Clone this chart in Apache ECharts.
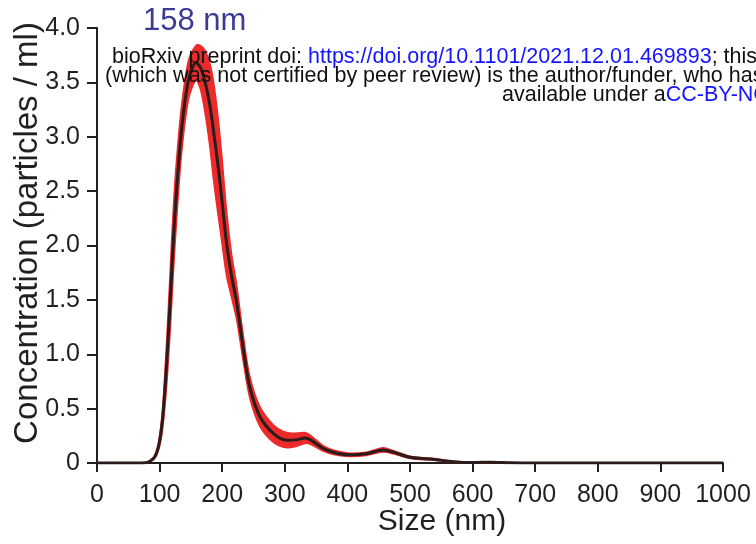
<!DOCTYPE html>
<html>
<head>
<meta charset="utf-8">
<script src="https://cdn.jsdelivr.net/npm/echarts@6/dist/echarts.min.js"></script>
<style>
  html, body { margin: 0; padding: 0; background: #fff; }
  #chart { width: 756px; height: 544px; }
</style>
</head>
<body>
<div id="chart"></div>
<script>
// particle size (nm) and concentration
var sizes = [0, 60, 80, 90, 95, 100, 105, 111, 117, 122, 127, 135, 146, 158, 165, 172, 180, 186, 193, 199, 207, 215, 223, 234, 244, 260, 282, 303, 320, 332, 342, 361, 380, 404, 430, 457, 473, 500, 537, 569, 600, 630, 660, 700, 850, 1000];
var meanConc = [0, 0, 0.005, 0.04, 0.09, 0.2, 0.42, 0.89, 1.5, 2.05, 2.5, 3.06, 3.52, 3.68, 3.64, 3.52, 3.3, 3.06, 2.75, 2.45, 2.02, 1.72, 1.48, 1.04, 0.70, 0.43, 0.27, 0.21, 0.215, 0.23, 0.21, 0.135, 0.095, 0.075, 0.085, 0.12, 0.10, 0.052, 0.034, 0.012, 0.004, 0.008, 0.002, 0, 0, 0];
// +/- error (red band half width)
var errConc = [0, 0, 0.003, 0.01, 0.02, 0.05, 0.1, 0.2, 0.28, 0.3, 0.28, 0.22, 0.18, 0.16, 0.2, 0.28, 0.38, 0.45, 0.45, 0.4, 0.3, 0.2, 0.16, 0.12, 0.1, 0.09, 0.08, 0.07, 0.06, 0.05, 0.04, 0.025, 0.02, 0.015, 0.015, 0.02, 0.015, 0.01, 0.008, 0.005, 0.003, 0.004, 0.002, 0, 0, 0];

var titleText = '158 nm';
var xName = 'Size (nm)';
var yName = 'Concentration (particles / ml)';

var ink = '#231f20';
var red = '#ed2a2a';
var font = 'Liberation Sans, Arial, Helvetica, sans-serif';

var meanData = [];
for (var i = 0; i < sizes.length; i++) {
    meanData.push([sizes[i], meanConc[i]]);
}

// error band as one closed polygon: upper edge left->right, lower edge back
function renderBand(params, api) {
    var pts = [];
    for (var i = 0; i < sizes.length; i++) {
        pts.push(api.coord([sizes[i], meanConc[i] + errConc[i]]));
    }
    for (var j = sizes.length - 1; j >= 0; j--) {
        pts.push(api.coord([sizes[j], Math.max(0, meanConc[j] - errConc[j])]));
    }
    return {
        type: 'polygon',
        shape: { points: pts, smooth: 0.3 },
        style: { fill: red, stroke: red, lineWidth: 1.5 }
    };
}

var chart = echarts.init(document.getElementById('chart'));
var option = {
    animation: false,
    backgroundColor: '#fff',
    grid: { left: 97, right: 33, top: 28, bottom: 81 },
    xAxis: {
        type: 'value',
        min: 0,
        max: 1000,
        interval: 100,
        axisLine: { onZero: false, lineStyle: { color: ink, width: 2 } },
        axisTick: { length: 9, lineStyle: { color: ink, width: 2 } },
        axisLabel: {
            color: ink, fontSize: 25, fontFamily: font, margin: 20,
            formatter: function (v) { return String(v); }
        },
        splitLine: { show: false }
    },
    yAxis: {
        type: 'value',
        min: 0,
        max: 4,
        interval: 0.5,
        axisLine: { show: true, lineStyle: { color: ink, width: 2 } },
        axisTick: { show: true, length: 10, lineStyle: { color: ink, width: 2 } },
        axisLabel: {
            color: ink, fontSize: 25, fontFamily: font, margin: 17,
            formatter: function (v) { return v === 0 ? '0' : v.toFixed(1); }
        },
        splitLine: { show: false }
    },
    series: [
        {
            name: 'band',
            type: 'custom',
            data: [[0, 0]],
            renderItem: renderBand,
            silent: true,
            z: 2
        },
        {
            name: 'mean',
            type: 'line',
            data: meanData,
            smooth: 0.3,
            symbol: 'none',
            lineStyle: { color: '#2b1c1c', width: 3 },
            z: 3
        }
    ],
    graphic: [
        {
            type: 'text', x: 143, y: 21, z: 10,
            style: { text: titleText, fill: '#3b3b96', font: '31px ' + font, verticalAlign: 'middle' }
        },
        {
            type: 'text', x: 44, y: 233, rotation: Math.PI / 2, z: 10,
            style: { text: yName, fill: ink, font: '33px ' + font, align: 'center', verticalAlign: 'bottom' }
        },
        {
            type: 'text', x: 442, y: 522, z: 10,
            style: { text: xName, fill: ink, font: '30px ' + font, align: 'center', verticalAlign: 'middle' }
        },
        {
            type: 'text', x: 112, y: 57, z: 10,
            style: {
                text: '{k|bioRxiv preprint doi: }{u|https://doi.org/10.1101/2021.12.01.469893}{k|; this}',
                verticalAlign: 'middle',
                rich: {
                    k: { fill: '#111', font: '21.5px ' + font },
                    u: { fill: '#1414ff', font: '21.5px ' + font }
                }
            }
        },
        {
            type: 'text', x: 105, y: 76, z: 10,
            style: {
                text: '(which was not certified by peer review) is the author/funder, who has',
                fill: '#111', font: '21.5px ' + font, verticalAlign: 'middle'
            }
        },
        {
            type: 'text', x: 502, y: 95, z: 10,
            style: {
                text: '{k|available under a}{u|CC-BY-NC-ND 4.0 International license}',
                verticalAlign: 'middle',
                rich: {
                    k: { fill: '#111', font: '21.5px ' + font },
                    u: { fill: '#1414ff', font: '21.5px ' + font }
                }
            }
        }
    ]
};
chart.setOption(option);
</script>
</body>
</html>
